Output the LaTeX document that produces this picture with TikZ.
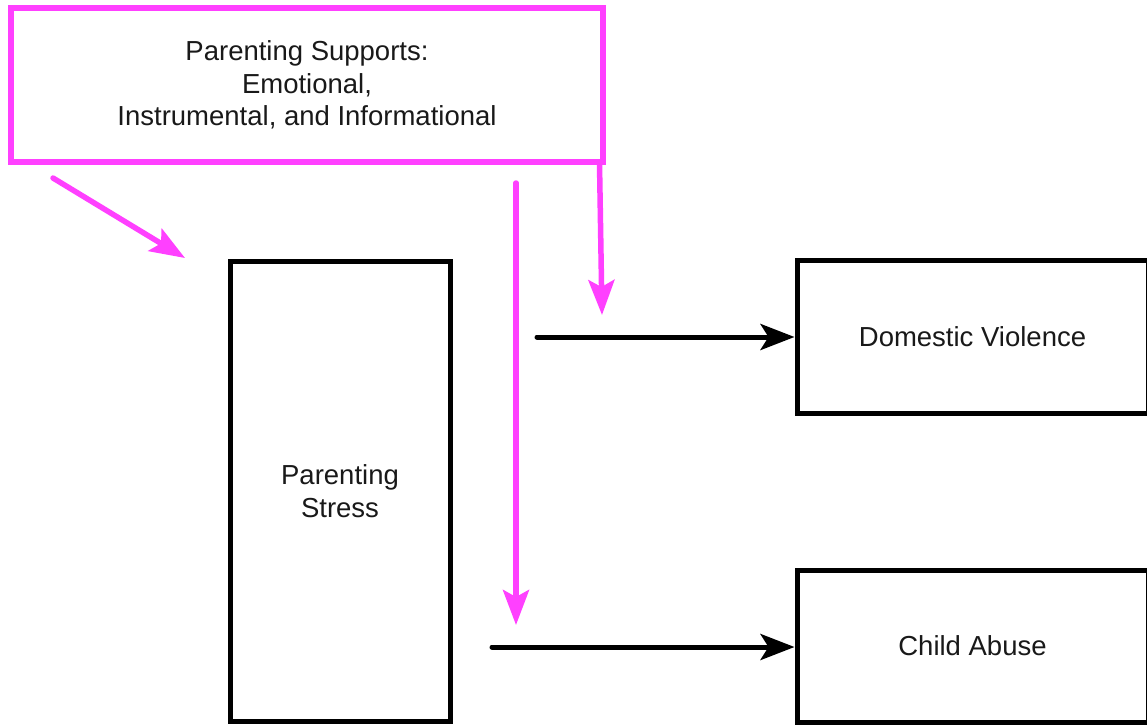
\documentclass[tikz,border=0pt]{standalone}
\usepackage{fontspec}
\setmainfont{Liberation Sans}
\usetikzlibrary{arrows.meta}
\definecolor{pmag}{RGB}{255,64,255}
\definecolor{txt}{RGB}{25,25,25}
\tikzset{
  pbox/.style={draw=pmag, line width=5.5pt, inner sep=0pt, align=center, text=txt,
    font=\fontsize{27.5pt}{32.5pt}\selectfont},
  bbox/.style={draw=black, line width=5pt, inner sep=0pt, align=center, text=txt,
    font=\fontsize{27.5pt}{32.5pt}\selectfont},
  marrow/.style={draw=pmag, line width=5.5pt, line cap=round,
    -{Stealth[length=35pt,width=26pt,inset=7pt]}},
  barrow/.style={draw=black, line width=5pt, line cap=round,
    -{Stealth[length=34pt,width=26pt,inset=8pt]}}
}
\begin{document}
\begin{tikzpicture}[x=1pt,y=-1pt]
\useasboundingbox[fill=white] (0,0) rectangle (1147,725);
\node[pbox, minimum width=592pt, minimum height=154pt] (sup) at (307,85)
  {Parenting Supports:\\Emotional,\\Instrumental, and Informational};
\node[bbox, minimum width=220pt, minimum height=460pt] (ps) at (340,491)
  {Parenting\\Stress};
\node[bbox, minimum width=351pt, minimum height=153pt] (dv) at (972.5,336.5)
  {Domestic Violence};
\node[bbox, minimum width=351pt, minimum height=152pt] (ca) at (972.5,646)
  {Child Abuse};
% black arrows
\coordinate (b1) at (537,337);
\coordinate (b2) at (492,647);
\draw[barrow] (b1) -- (dv.west |- b1);
\draw[barrow] (b2) -- (ca.west |- b2);
% magenta arrows
\coordinate (m1s) at (53,178);
\coordinate (m1e) at (185,258);
\coordinate (m2s) at (516,183);
\coordinate (m2e) at (516,625);
\coordinate (m3s) at (599.5,163);
\coordinate (m3e) at (602,315);
\draw[marrow] (m1s) -- (m1e);
\draw[marrow] (m2s) -- (m2e);
\draw[marrow] (m3s) -- (m3e);
\end{tikzpicture}
\end{document}
